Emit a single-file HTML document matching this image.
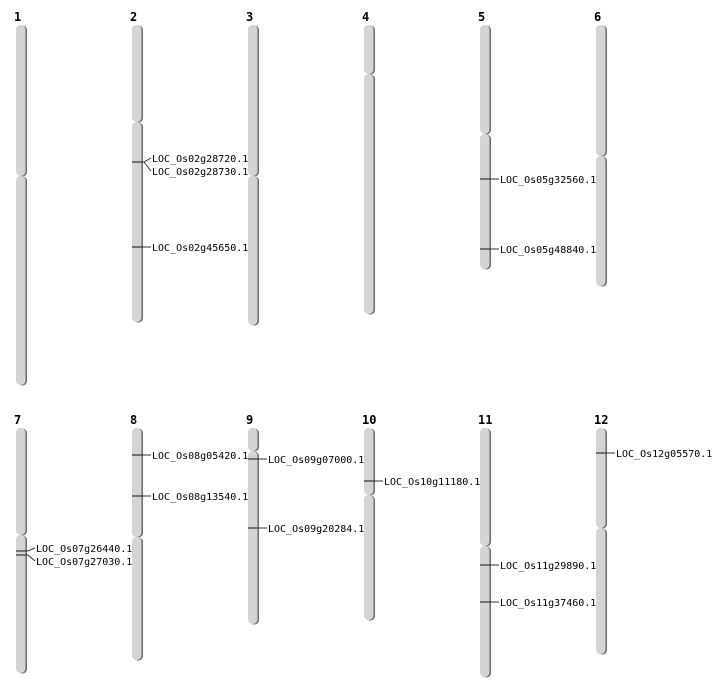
<!DOCTYPE html>
<html><head><meta charset="utf-8"><style>
body{margin:0;background:#fff;width:712px;height:700px;overflow:hidden}
svg{display:block}
text{font-family:"DejaVu Sans Mono","Liberation Mono",monospace}
</style></head><body>
<svg id="s" width="712" height="700" xmlns="http://www.w3.org/2000/svg"></svg>
<script>
const S=document.getElementById('s');let h='';
const cols=[16,132,248,364,480,596];
const chr=[
[1,0,25,176,386],[2,1,25,122,323],[3,2,25,176,326],[4,3,25,74,315],[5,4,25,134,270],[6,5,25,156,287],
[7,0,428,535,674],[8,1,428,537,661],[9,2,428,451,625],[10,3,428,495,621],[11,4,428,546,678],[12,5,428,528,655]];
function arm(x,a,b){
 h+=`<rect x="${x+1.5}" y="${a+0.5}" width="9.5" height="${b-a-1}" rx="4.5" fill="#6a6a6a"/>`;
 h+=`<rect x="${x}" y="${a}" width="9.5" height="${b-a-1}" rx="4.5" fill="#d4d4d4"/>`;
}
chr.forEach(([n,c,t,m,e])=>{const x=cols[c];
 h+=`<text x="${x-2}" y="${t-4}" font-size="12" font-weight="bold">${n}</text>`;
 arm(x,t,m+1);arm(x,m,e);});
const mk=[
[1,162,[[158,'LOC_Os02g28720.1'],[171,'LOC_Os02g28730.1']]],
[1,247,[[247,'LOC_Os02g45650.1']]],
[4,179,[[179,'LOC_Os05g32560.1']]],
[4,249,[[249,'LOC_Os05g48840.1']]],
[0,551,[[548,'LOC_Os07g26440.1']]],
[0,555,[[561,'LOC_Os07g27030.1']]],
[1,455,[[455,'LOC_Os08g05420.1']]],
[1,496,[[496,'LOC_Os08g13540.1']]],
[2,459,[[459,'LOC_Os09g07000.1']]],
[2,528,[[528,'LOC_Os09g20284.1']]],
[3,481,[[481,'LOC_Os10g11180.1']]],
[4,565,[[565,'LOC_Os11g29890.1']]],
[4,602,[[602,'LOC_Os11g37460.1']]],
[5,453,[[453,'LOC_Os12g05570.1']]]];
mk.forEach(([c,y,ls])=>{const x=cols[c];
 h+=`<line x1="${x}" y1="${y}" x2="${x+10}" y2="${y}" stroke="#333" stroke-width="1.2"/>`;
 ls.forEach(([ly,t])=>{
  h+=`<polyline points="${x+10},${y} ${x+12},${y} ${x+19},${ly}" fill="none" stroke="#333" stroke-width="1"/>`;
  h+=`<text x="${x+20}" y="${ly+4}" font-size="10">${t}</text>`;});});
S.innerHTML=h;
</script>
</body></html>
